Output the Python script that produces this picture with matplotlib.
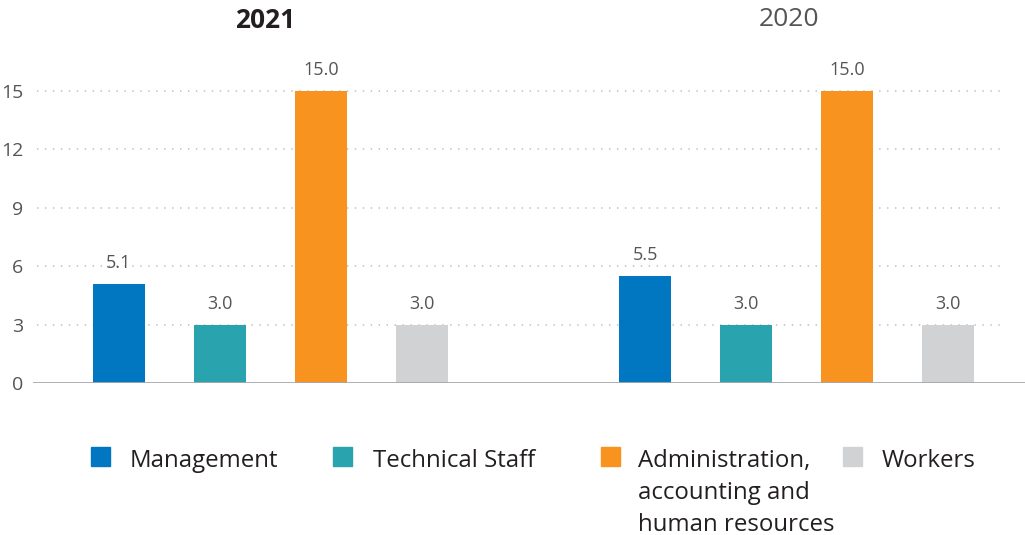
import matplotlib.pyplot as plt
import matplotlib.transforms as mtransforms
from matplotlib.patches import Rectangle
import numpy as np

plt.rcParams["font.family"] = ["Open Sans", "DejaVu Sans"]

YEARS = ["2021", "2020"]
CATEGORIES = ["Management", "Technical Staff",
              "Administration,\naccounting and\nhuman resources", "Workers"]
VALUES_2021 = [5.1, 3.0, 15.0, 3.0]
VALUES_2020 = [5.5, 3.0, 15.0, 3.0]
COLORS = ["#0077c0", "#29a3ad", "#f7931e", "#d1d2d4"]
Y_TICKS = [0, 3, 6, 9, 12, 15]

W, H = 1025, 535
fig = plt.figure(figsize=(W / 100, H / 100), dpi=100)

# axes box in pixels: left 33, right 1025, bottom (zero line) 383, top 62
ax = fig.add_axes([33 / W, (H - 383) / H, (W - 33) / W, (383 - 62) / H])
px_per_unit = (383 - 91) / 15.0
ax.set_ylim(0, (383 - 62) / px_per_unit)
ax.set_xlim(-0.851, 8.97)

group_offset = 5.21
bar_w = 0.515
x1 = np.arange(4)
x2 = np.arange(4) + group_offset

for xs, vals in [(x1, VALUES_2021), (x2, VALUES_2020)]:
    bars = ax.bar(xs, vals, width=bar_w, color=COLORS, zorder=3)
    for b, v in zip(bars, vals):
        ax.annotate(f"{v:.1f}", (b.get_x() + b.get_width() / 2, v),
                    xytext=(0, 11.5), textcoords="offset points",
                    ha="center", va="baseline", fontsize=13, color="#555555")

ax.hlines(Y_TICKS[1:], -0.81, 8.77, colors="#c8c8c8", linewidth=1.3,
          linestyles=(0, (0.8, 3.6)), zorder=1)
ax.axhline(0, color="#a7a9ac", linewidth=1.3, zorder=4)

for s in ax.spines.values():
    s.set_visible(False)
ax.set_xticks([])
ax.set_yticks(Y_TICKS)
ax.tick_params(axis="y", length=0, pad=7, labelsize=14, labelcolor="#555555")

# year titles above each group
trans = mtransforms.blended_transform_factory(ax.transData, fig.transFigure)
ax.text(x1.mean() - 0.05, 1 - 20 / H, YEARS[0], transform=trans, ha="center",
        va="center", fontsize=19, fontweight="bold", color="#231f20")
ax.text(x2.mean() - 0.08, 1 - 20 / H, YEARS[1], transform=trans, ha="center",
        va="center", fontsize=19, color="#555555")

# legend below the plot, one text per line so first baselines line up
sq_x = [91, 333, 601, 843]
txt_x = [130, 373, 638, 882]
for sx, tx, label, c in zip(sq_x, txt_x, CATEGORIES, COLORS):
    fig.patches.append(Rectangle((sx / W, (H - 466) / H), 19 / W, 19 / H,
                                 transform=fig.transFigure, color=c))
    for i, line in enumerate(label.split("\n")):
        fig.text(tx / W, 1 - (467 + 32 * i) / H, line, ha="left",
                 va="baseline", fontsize=17.3, color="#231f20")

fig.savefig("out.png", dpi=100)
